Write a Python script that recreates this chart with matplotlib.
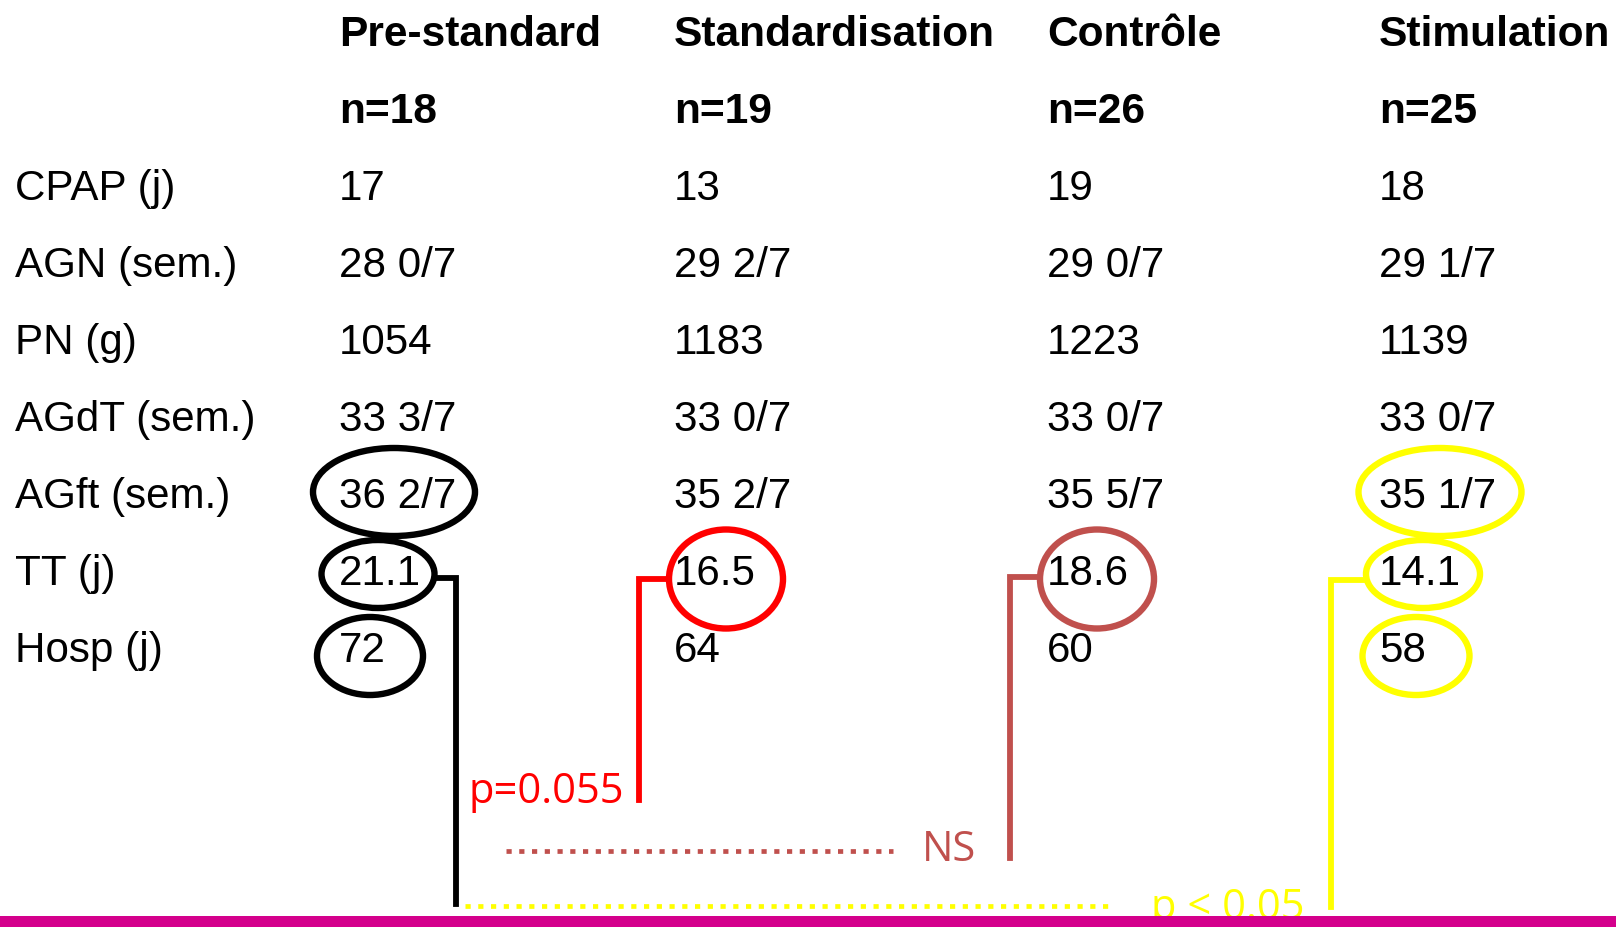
import matplotlib.pyplot as plt
from matplotlib.patches import Ellipse, Rectangle

# --- donnees du tableau ---
groups = ["Pre-standard", "Standardisation", "Contrôle", "Stimulation"]
n_values = [18, 19, 26, 25]
row_labels = ["CPAP (j)", "AGN (sem.)", "PN (g)", "AGdT (sem.)",
              "AGft (sem.)", "TT (j)", "Hosp (j)"]
cpap = ["17", "13", "19", "18"]
agn = ["28 0/7", "29 2/7", "29 0/7", "29 1/7"]
pn = ["1054", "1183", "1223", "1139"]
agdt = ["33 3/7", "33 0/7", "33 0/7", "33 0/7"]
agft = ["36 2/7", "35 2/7", "35 5/7", "35 1/7"]
tt = ["21.1", "16.5", "18.6", "14.1"]
hosp = ["72", "64", "60", "58"]
p_labels = ["p=0.055", "NS", "p < 0.05"]

rows = [cpap, agn, pn, agdt, agft, tt, hosp]

# --- mise en page (pixels) ---
W, H = 1616, 928
col_x = [339, 674, 1047, 1379]
label_x = 15
base_y0, row_step = 46, 77          # ligne de base de la 1ere ligne, pas entre lignes

def row_base(i):
    return base_y0 + row_step * i

BLACK, RED, BROWN, YELLOW, MAGENTA = "#000000", "#FF0000", "#C0504D", "#FFFF00", "#D4008C"

fig = plt.figure(figsize=(W / 100, H / 100), dpi=100)
ax = fig.add_axes([0, 0, 1, 1])
ax.set_xlim(0, W)
ax.set_ylim(H, 0)
ax.axis("off")

txt = dict(family="Liberation Sans", va="baseline", ha="left", color="black")

# entetes
for j, g in enumerate(groups):
    ax.text(col_x[j], row_base(0), g, fontsize=30.6, fontweight="bold", **txt)
    ax.text(col_x[j], row_base(1), "n=%d" % n_values[j], fontsize=30.6, fontweight="bold", **txt)

# lignes du tableau
for i, (lab, vals) in enumerate(zip(row_labels, rows)):
    y = row_base(i + 2)
    ax.text(label_x, y, lab, fontsize=30.3, **txt)
    for j, v in enumerate(vals):
        ax.text(col_x[j], y, v, fontsize=30.3, **txt)

# ellipses: (ligne, colonne, dx, dy, largeur, hauteur, couleur)
circles = [
    (4, 0, 55, -15, 162, 88, BLACK),
    (5, 0, 39, -10, 113, 68, BLACK),
    (6, 0, 31, -5, 106, 78, BLACK),
    (5, 1, 52, -5, 114, 99, RED),
    (5, 2, 50, -5, 114, 99, BROWN),
    (4, 3, 61, -15, 163, 88, YELLOW),
    (5, 3, 44, -10, 114, 68, YELLOW),
    (6, 3, 37, -5, 107, 78, YELLOW),
]
for r, c, dx, dy, w, h, col in circles:
    ax.add_patch(Ellipse((col_x[c] + dx, row_base(r + 2) + dy), w, h,
                         fill=False, edgecolor=col, linewidth=4.6, zorder=3))

# crochets: (x debut, x vertical, y haut, y bas, couleur)
brackets = [
    (435, 456, 579, 905, BLACK),
    (668, 639, 580, 801, RED),
    (1039, 1010, 578, 859, BROWN),
    (1365, 1331, 581, 908, YELLOW),
]
for x0, xv, y0, y1, col in brackets:
    ax.plot([x0, xv, xv], [y0, y0, y1], color=col, linewidth=4.2,
            solid_joinstyle="miter", zorder=3)

# lignes pointillees
dots = (0, (1.1, 1.6))
ax.plot([506, 893], [852, 852], color=BROWN, linewidth=3.4, linestyle=dots, zorder=3)
ax.plot([465, 1115], [907, 907], color=YELLOW, linewidth=3.4, linestyle=dots, zorder=3)

# valeurs p
ptxt = dict(fontsize=30, family="Open Sans", va="baseline", ha="left")
ax.text(468, 803, p_labels[0], color=RED, **ptxt)
ax.text(922, 861, p_labels[1], color=BROWN, **ptxt)
ax.text(1151, 919, p_labels[2], color=YELLOW, zorder=2, **ptxt)

# bande magenta en bas
ax.add_patch(Rectangle((0, 917), W, H - 917, facecolor=MAGENTA, edgecolor="none", zorder=5))

fig.savefig("out.png", dpi=100)
